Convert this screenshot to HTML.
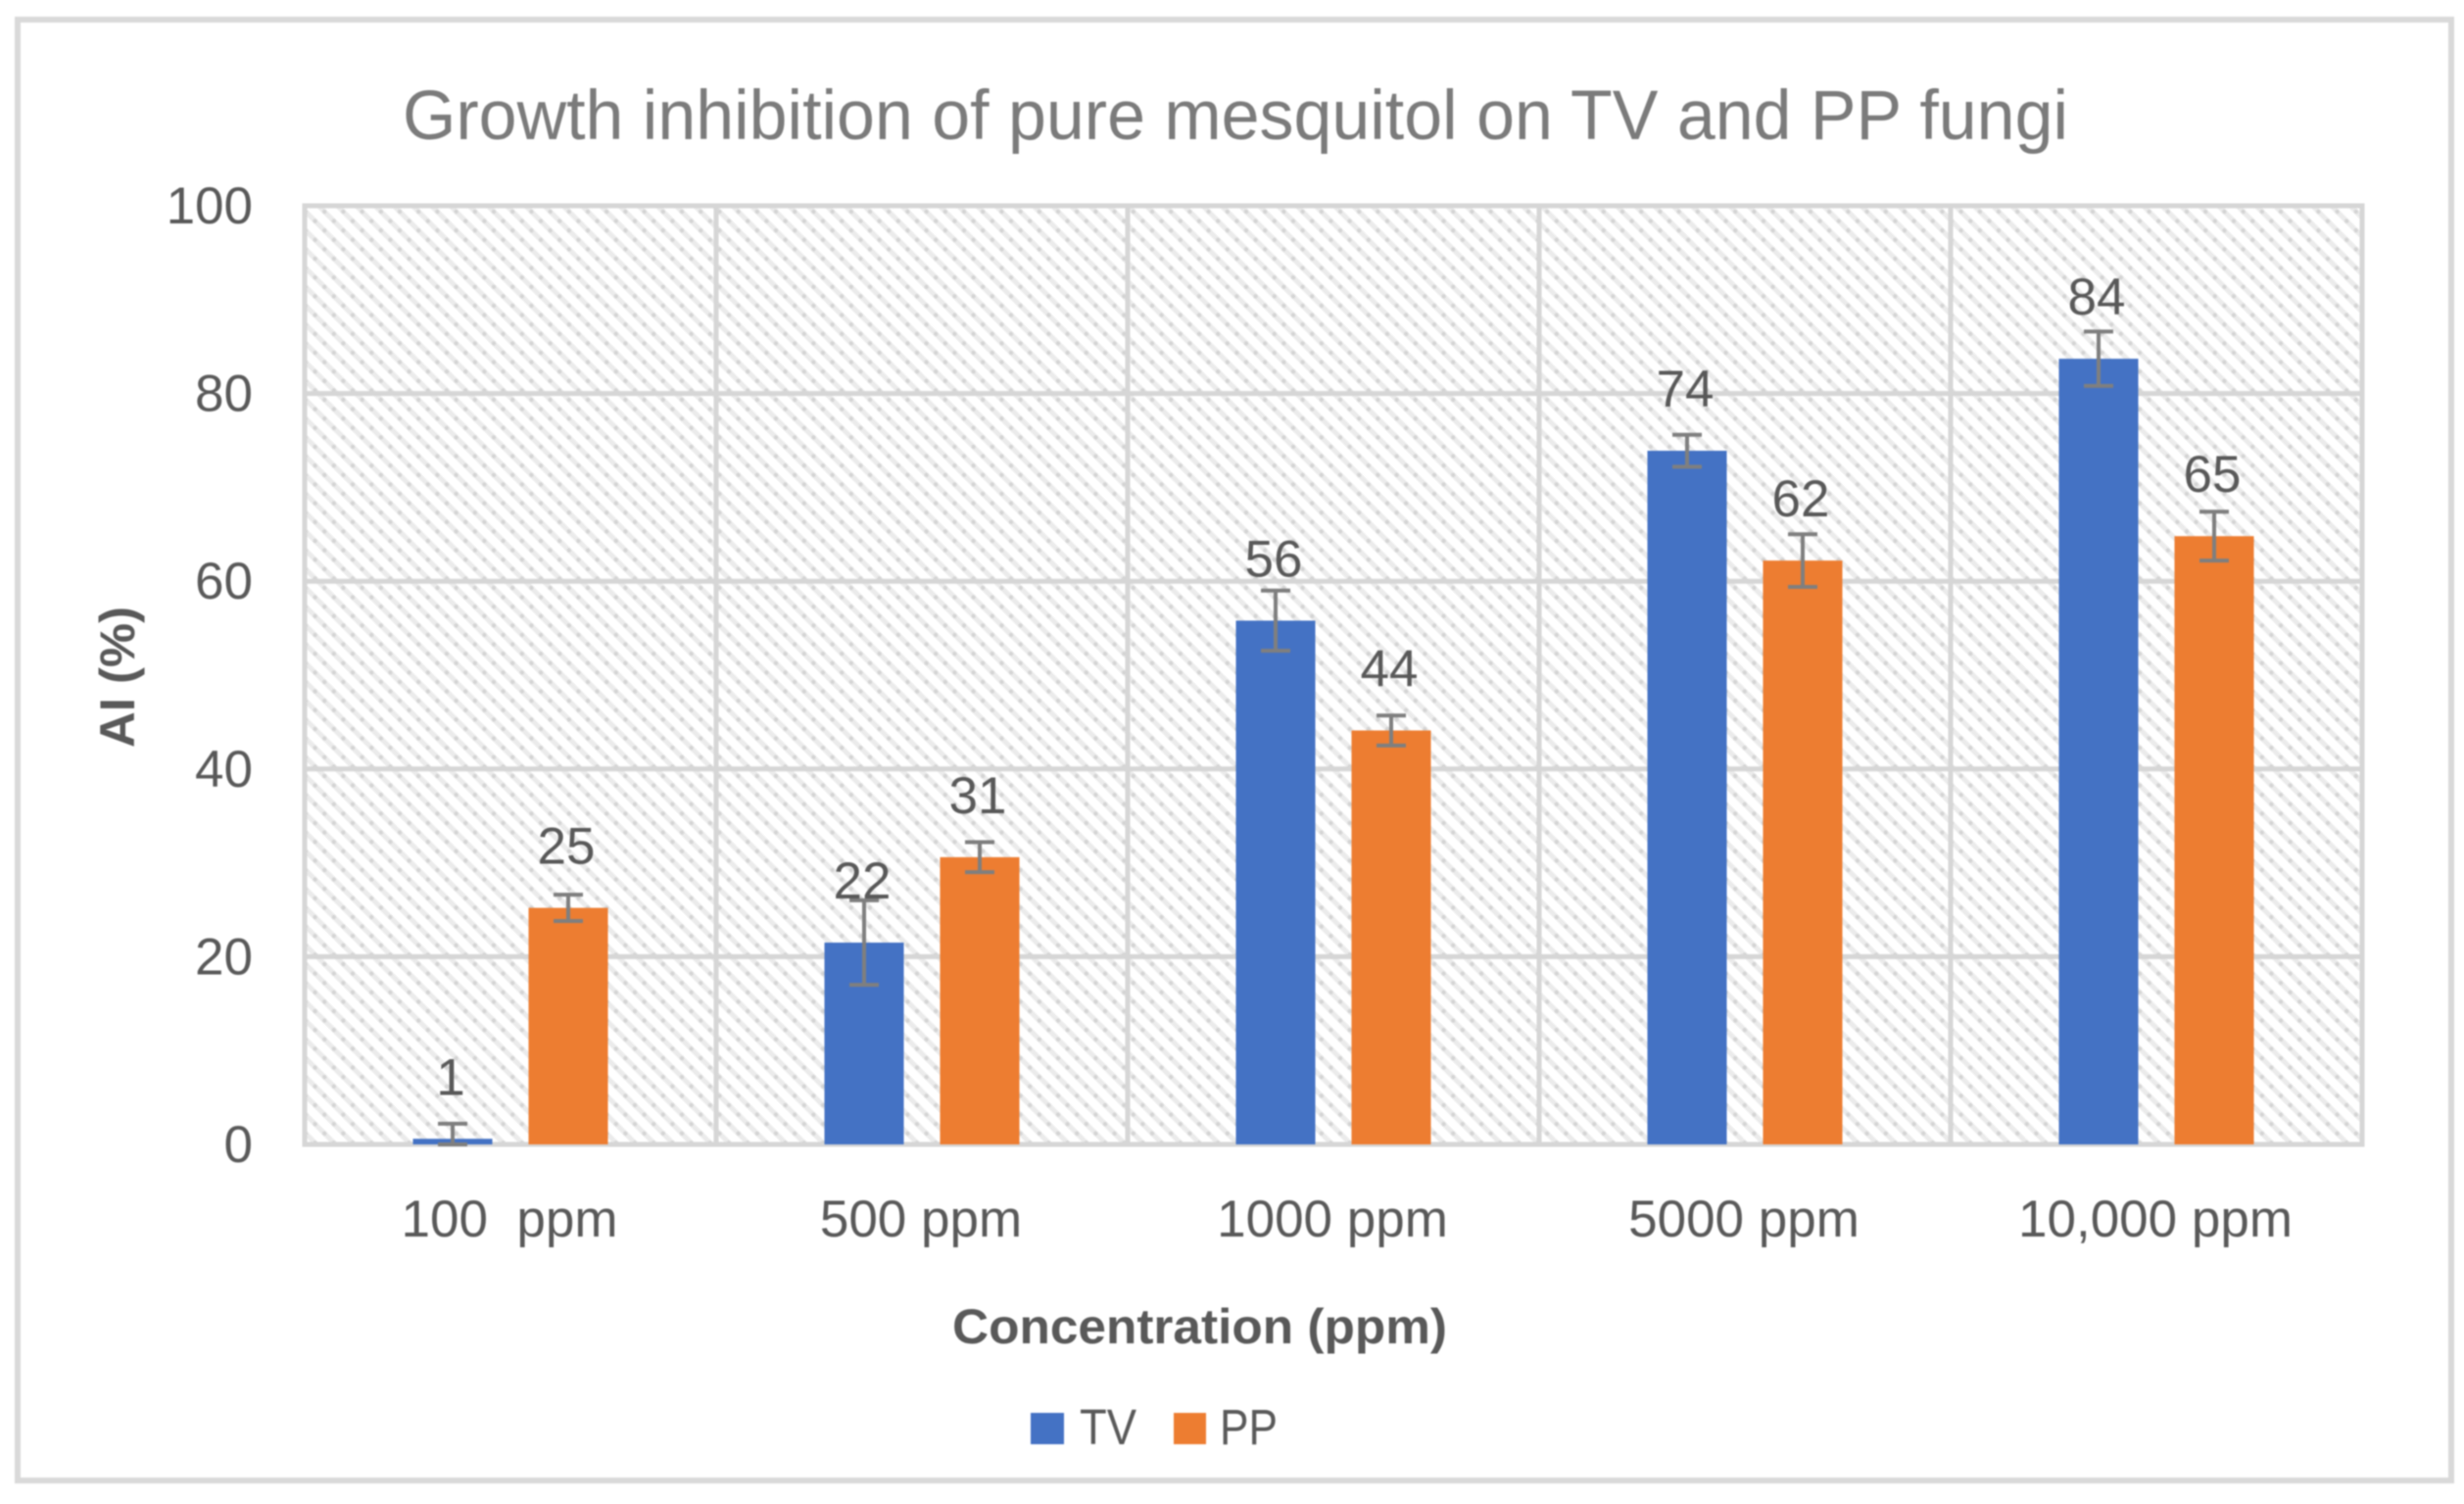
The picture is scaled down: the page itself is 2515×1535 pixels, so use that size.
<!DOCTYPE html>
<html lang="en">
<head>
<meta charset="utf-8">
<title>Growth inhibition of pure mesquitol on TV and PP fungi</title>
<style>
html,body{margin:0;padding:0;background:#fff;width:2515px;height:1535px;overflow:hidden}
svg{display:block;filter:blur(0.8px)}
text{font-family:"Liberation Sans",Arial,sans-serif;fill:#595959}
</style>
</head>
<body>
<svg id="chart" xmlns="http://www.w3.org/2000/svg" width="2515" height="1535" viewBox="0 0 2515 1535">
<defs>
<pattern id="hatch" patternUnits="userSpaceOnUse" width="19.2" height="19.2">
<rect width="19.2" height="19.2" fill="#ffffff"/>
<line x1="-4" y1="-4" x2="23.2" y2="23.2" stroke="#ebebeb" stroke-width="5"/>
<line x1="-4" y1="15.2" x2="4" y2="23.2" stroke="#ebebeb" stroke-width="5"/>
<line x1="15.2" y1="-4" x2="23.2" y2="4" stroke="#ebebeb" stroke-width="5"/>
<circle cx="4.8" cy="4.8" r="2.2" fill="#d4d4d4"/>
<circle cx="14.4" cy="14.4" r="2.2" fill="#d4d4d4"/>
</pattern>
</defs>
<rect x="18" y="20" width="2484" height="1491" fill="#ffffff" stroke="#d9d9d9" stroke-width="6"/>
<text x="411" y="142" font-size="71" textLength="1700" lengthAdjust="spacingAndGlyphs" style="fill:#7b7b7b">Growth inhibition of pure mesquitol on TV and PP fungi</text>
<rect x="311" y="210" width="2100" height="958" fill="url(#hatch)"/>
<g id="grid"></g>
<g id="y-ticks"></g>
<g id="x-ticks"></g>
<g id="bars"></g>
<g id="errors"></g>
<g id="labels"></g>
<text x="972" y="1371" font-size="50" font-weight="700" textLength="505" lengthAdjust="spacingAndGlyphs">Concentration (ppm)</text>
<text transform="translate(137,763) rotate(-90)" x="0" y="0" font-size="50" font-weight="700" textLength="144" lengthAdjust="spacingAndGlyphs">AI (%)</text>
<rect x="1052" y="1442" width="34" height="32" fill="#4472c4"/>
<text x="1102" y="1474" font-size="51" textLength="58" lengthAdjust="spacingAndGlyphs">TV</text>
<rect x="1198" y="1442" width="33" height="32" fill="#ed7d31"/>
<text x="1245" y="1474" font-size="51" textLength="59" lengthAdjust="spacingAndGlyphs">PP</text>
</svg>
<script>
const categories = ["100  ppm", "500 ppm", "1000 ppm", "5000 ppm", "10,000 ppm"];
const tvValues = [0.6, 21.5, 55.8, 73.9, 83.7];
const ppValues = [25.2, 30.6, 44.1, 62.2, 64.8];
const tvErrors = [1.6, 4.5, 3.2, 1.7, 2.9];
const ppErrors = [1.4, 1.6, 1.6, 2.8, 2.6];
const yTickValues = [0, 20, 40, 60, 80, 100];

const NS = "http://www.w3.org/2000/svg";
const plotLeft = 311, plotRight = 2411, plotTop = 210, plotBottom = 1168;
const yMax = 100;
const barWidth = 81, barGap = 37;

function yScale(v) {
  return plotBottom - (v / yMax) * (plotBottom - plotTop);
}
function bandCenter(i) {
  return plotLeft + (i + 0.5) * (plotRight - plotLeft) / categories.length;
}
function bandEdge(i) {
  return plotLeft + i * (plotRight - plotLeft) / categories.length;
}
function make(tag, parent, props) {
  const el = document.createElementNS(NS, tag);
  for (const k in props) el.setAttribute(k, props[k]);
  parent.appendChild(el);
  return el;
}

const grid = document.getElementById("grid");
const yTicks = document.getElementById("y-ticks");
const xTicks = document.getElementById("x-ticks");
const bars = document.getElementById("bars");
const errors = document.getElementById("errors");
const labels = document.getElementById("labels");

yTickValues.forEach(function (t) {
  const y = yScale(t);
  const line = make("line", grid, {x1: plotLeft, x2: plotRight, y1: y, y2: y, stroke: "#d6d6d6", "stroke-width": 5});
  
  
  const label = make("text", yTicks, {x: 258, y: y + 18, "font-size": 53, "text-anchor": "end"});
  label.textContent = String(t);
  
  
});

for (let i = 0; i <= categories.length; i++) {
  const x = bandEdge(i);
  const line = make("line", grid, {x1: x, x2: x, y1: plotTop - 2.5, y2: plotBottom + 2.5, stroke: "#d6d6d6", "stroke-width": 5});
  
  
}

categories.forEach(function (name, i) {
  const label = make("text", xTicks, {x: bandCenter(i) - 1, y: 1262, "font-size": 53, "text-anchor": "middle"});
  label.style.whiteSpace = "pre";
  label.textContent = name;
  
  
});

function drawSeries(values, errs, offset, color, seriesName) {
  values.forEach(function (v, i) {
    const cx = bandCenter(i) + offset;
    const top = yScale(v);
    const bar = make("rect", bars, {x: cx - barWidth / 2, y: top, width: barWidth, height: plotBottom - top, fill: color});
    
    

    const hi = yScale(v + errs[i]);
    const lo = yScale(Math.max(0, v - errs[i]));
    const stem = make("line", errors, {x1: cx, x2: cx, y1: hi, y2: lo, stroke: "#7f7f7f", "stroke-width": 4});
    
    
    [hi, lo].forEach(function (yy) {
      const cap = make("line", errors, {x1: cx - 15, x2: cx + 15, y1: yy, y2: yy, stroke: "#7f7f7f", "stroke-width": 4});
      
      
    });

    const label = make("text", labels, {x: cx - 2, y: top - 45, "font-size": 53, "text-anchor": "middle"});
    label.textContent = String(Math.round(v));
    
    
  });
}

drawSeries(tvValues, tvErrors, -(barWidth + barGap) / 2, "#4472c4", "tv");
drawSeries(ppValues, ppErrors, (barWidth + barGap) / 2, "#ed7d31", "pp");
</script>
</body>
</html>
